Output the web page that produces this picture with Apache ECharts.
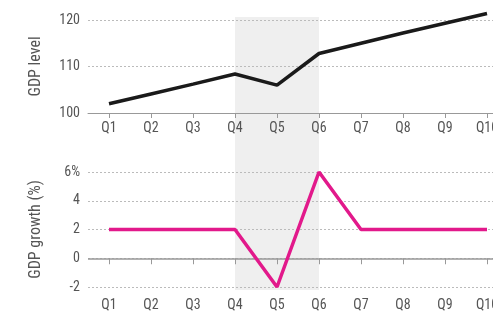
<!DOCTYPE html>
<html>
<head>
<meta charset="utf-8">
<script src="https://cdn.jsdelivr.net/npm/echarts@6/dist/echarts.min.js"></script>
<style>
  html, body { margin: 0; padding: 0; background: #fff; }
  #chart { width: 493px; height: 314px; }
</style>
</head>
<body>
<div id="chart"></div>
<script>
const quarters = ["Q1", "Q2", "Q3", "Q4", "Q5", "Q6", "Q7", "Q8", "Q9", "Q10"];
const gdpLevel = [102, 104.1, 106.2, 108.4, 106, 112.8, 115, 117.2, 119.3, 121.4];
const gdpGrowth = [2, 2, 2, 2, -2, 6, 2, 2, 2, 2];
const shockStart = "Q4";
const shockEnd = "Q6";

window.addEventListener("load", function () {
  const chart = echarts.init(document.getElementById("chart"));
  const font = "'Liberation Sans Narrow', 'Roboto Condensed', 'Liberation Sans', sans-serif";
  const grey = "#555";

  const xAxisBase = {
    type: "category",
    data: quarters,
    boundaryGap: true,
    axisTick: { show: true, alignWithLabel: true, length: 5, lineStyle: { color: "#999" } },
    axisLabel: { color: grey, fontFamily: font, fontSize: 14, margin: 8 },
    splitLine: { show: false },
  };
  const dotted = { show: true, lineStyle: { color: "#bbb", type: [2, 2], width: 1 } };

  let option = {
    animation: false,
    grid: [
      { left: 88, width: 420, top: 17, bottom: 24, outerBoundsMode: "none", containLabel: false },
      { left: 88, width: 420, top: 20, height: 93, outerBoundsMode: "none", containLabel: false },
      { left: 88, width: 420, top: 172, height: 115, outerBoundsMode: "none", containLabel: false },
    ],
    xAxis: [
      { type: "category", data: quarters, gridIndex: 0, show: false, boundaryGap: true },
      Object.assign({}, xAxisBase, {
        gridIndex: 1,
        axisLine: { show: true, lineStyle: { color: "#999", width: 1 } },
      }),
      Object.assign({}, xAxisBase, {
        gridIndex: 2,
        axisLine: { show: false },
        axisTick: { show: true, alignWithLabel: true, length: 6, lineStyle: { color: "#999" } },
        axisLabel: { color: grey, fontFamily: font, fontSize: 14, margin: 11 },
      }),
    ],
    yAxis: [
      { type: "value", gridIndex: 0, show: false, min: 0, max: 1 },
      {
        type: "value",
        gridIndex: 1,
        min: 100,
        max: 120,
        interval: 10,
        axisLine: { show: false },
        axisTick: { show: false },
        splitLine: dotted,
        axisLabel: { color: grey, fontFamily: font, fontSize: 14, margin: 8 },
        name: "GDP level",
        nameLocation: "middle",
        nameGap: 44,
        nameTextStyle: { color: grey, fontFamily: font, fontSize: 16 },
      },
      {
        type: "value",
        gridIndex: 2,
        min: -2,
        max: 6,
        interval: 2,
        axisLine: { show: false },
        axisTick: { show: false },
        splitLine: dotted,
        axisLabel: {
          color: grey,
          fontFamily: font,
          fontSize: 14,
          margin: 8,
          formatter: (v) => (v === 6 ? "6%" : String(v)),
        },
        name: "GDP growth (%)",
        nameLocation: "middle",
        nameGap: 44,
        nameTextStyle: { color: grey, fontFamily: font, fontSize: 16 },
      },
    ],
    series: [
      {
        type: "line",
        xAxisIndex: 0,
        yAxisIndex: 0,
        data: [],
        silent: true,
        z: -1,
        markArea: {
          silent: true,
          z: -1,
          itemStyle: { color: "#efefef" },
          data: [[{ xAxis: shockStart }, { xAxis: shockEnd }]],
        },
      },
      {
        type: "line",
        xAxisIndex: 1,
        yAxisIndex: 1,
        data: gdpLevel,
        symbol: "none",
        clip: false,
        lineStyle: { color: "#1a1a1a", width: 3.5 },
        z: 5,
      },
      {
        type: "line",
        xAxisIndex: 2,
        yAxisIndex: 2,
        data: gdpGrowth,
        symbol: "none",
        clip: false,
        lineStyle: { color: "#e2198b", width: 3.5 },
        z: 5,
        markLine: {
          silent: true,
          symbol: "none",
          label: { show: false },
          lineStyle: { color: "#999", type: "solid", width: 1.5 },
          data: [{ yAxis: 0 }],
          z: 3,
        },
      },
    ],
  };
  chart.setOption(option);
});
</script>
</body>
</html>
